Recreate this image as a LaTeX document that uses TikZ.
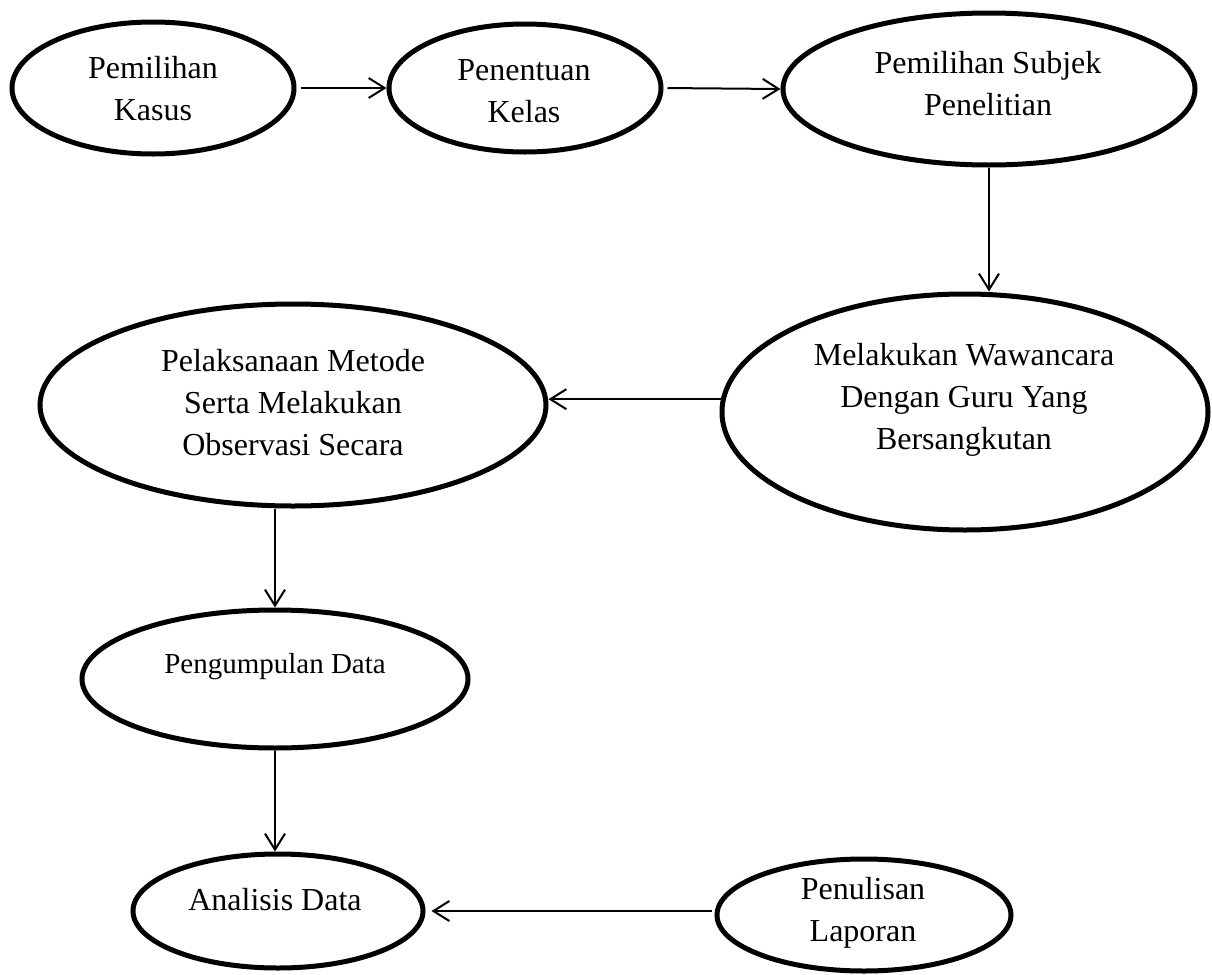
\documentclass[tikz,border=0pt]{standalone}
\usepackage{fontspec}
\setmainfont{Liberation Serif}
\usetikzlibrary{arrows.meta,shapes.geometric}
\begin{document}
\begin{tikzpicture}[x=0.5pt,y=-0.5pt,
  ell/.style={draw=black,line width=2.5pt,ellipse,inner sep=0pt},
  txt/.style={align=center,inner sep=0pt,font=\fontsize{16}{21}\selectfont},
  arr/.style={draw=black,line width=1pt,-{Straight Barb[length=8pt,width=10pt,line width=1pt]}}]
\useasboundingbox (0,0) rectangle (1212,975);
% ellipses
\node[ell,minimum width=141pt,minimum height=66pt] (e1) at (153,88) {};
\node[ell,minimum width=136pt,minimum height=64pt] (e2) at (525,88) {};
\node[ell,minimum width=206pt,minimum height=76pt] (e3) at (989,89) {};
\node[ell,minimum width=243pt,minimum height=118pt] (e4) at (965,412) {};
\node[ell,minimum width=253pt,minimum height=101pt] (e5) at (293,405) {};
\node[ell,minimum width=193pt,minimum height=69pt] (e6) at (275,679) {};
\node[ell,minimum width=145pt,minimum height=57pt] (e7) at (278,911) {};
\node[ell,minimum width=147pt,minimum height=56pt] (e8) at (864,915) {};
% texts
\node[txt] (t1) at (153,88.5) {Pemilihan\\Kasus};
\node[txt] (t2) at (524,91) {Penentuan\\Kelas};
\node[txt] (t3) at (988,84) {Pemilihan Subjek\\Penelitian};
\node[txt] (t4) at (964,400) {Melakukan Wawancara\\Dengan Guru Yang\\Bersangkutan};
\node[txt] (t5) at (293,403) {Pelaksanaan Metode\\Serta Melakukan\\Observasi Secara};
\node[txt,font=\fontsize{14.5}{19}\selectfont] (t6) at (275,667) {Pengumpulan Data};
\node[txt] (t7) at (275,900) {Analisis Data};
\node[txt] (t8) at (863,913) {Penulisan\\Laporan};
% connectors
\draw[arr,shorten <=2pt] (e1.east) -- (e2.west);
\draw[arr,shorten <=2pt] (e2.east) -- (e3.west);
\draw[arr] (e3.south) -- (e3.south |- e4.north);
\draw[arr] (e4.177.6) -- (e4.177.6 -| e5.east);
\draw[arr] (e6.north |- e5.south) -- (e6.north);
\draw[arr] (e6.south) -- (e6.south |- e7.north);
\draw[arr,shorten >=3pt,shorten <=1.5pt] (e8.west |- e7.east) -- (e7.east);
\end{tikzpicture}
\end{document}
